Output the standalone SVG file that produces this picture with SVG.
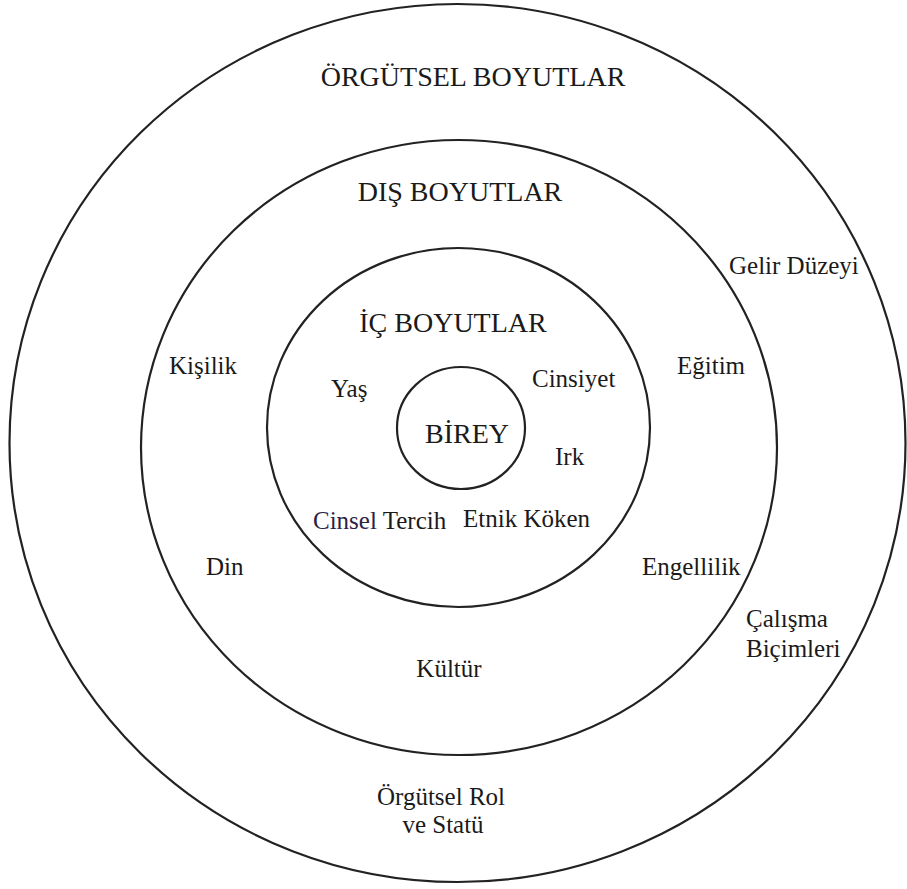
<svg xmlns="http://www.w3.org/2000/svg" width="907" height="889" viewBox="0 0 907 889">
<style>
.ring{fill:none;stroke:#222;stroke-width:2.2}
.t{font-family:"Liberation Serif","Times New Roman",serif;fill:#1a1a1a;font-size:25px}
.h{font-size:28px}
.m{text-anchor:middle}
</style>
<rect width="907" height="889" fill="#fff"/>
<g id="orgutsel">
<ellipse class="ring" cx="457.5" cy="443" rx="448" ry="439"/>
<text class="t h m" x="473" y="86">ÖRGÜTSEL BOYUTLAR</text>
<text class="t" x="729" y="274">Gelir Düzeyi</text>
<text class="t" x="746" y="627">Çalışma</text>
<text class="t" x="746" y="657">Biçimleri</text>
<text class="t m" x="441" y="805">Örgütsel Rol</text>
<text class="t m" x="443" y="833">ve Statü</text>
</g>
<g id="dis">
<ellipse class="ring" cx="459" cy="447.5" rx="318" ry="307.5"/>
<text class="t h m" x="460" y="201">DIŞ BOYUTLAR</text>
<text class="t" x="169" y="374">Kişilik</text>
<text class="t" x="677" y="374">Eğitim</text>
<text class="t" x="206" y="575">Din</text>
<text class="t" x="642" y="575">Engellilik</text>
<text class="t m" x="449" y="677">Kültür</text>
</g>
<g id="ic">
<ellipse class="ring" cx="458.5" cy="427.5" rx="191.5" ry="179.5"/>
<text class="t h m" x="453" y="332">İÇ BOYUTLAR</text>
<text class="t" x="331" y="397">Yaş</text>
<text class="t" x="532" y="387">Cinsiyet</text>
<text class="t" x="555" y="465">Irk</text>
<text class="t" x="313" y="529"><tspan fill="#2a2245">Cinsel</tspan> Tercih</text>
<text class="t" x="463" y="527">Etnik Köken</text>
</g>
<g id="birey">
<ellipse class="ring" cx="461" cy="428" rx="64" ry="61"/>
<text class="t h m" x="467" y="443">BİREY</text>
</g>
<g id="connectors"/>
</svg>
